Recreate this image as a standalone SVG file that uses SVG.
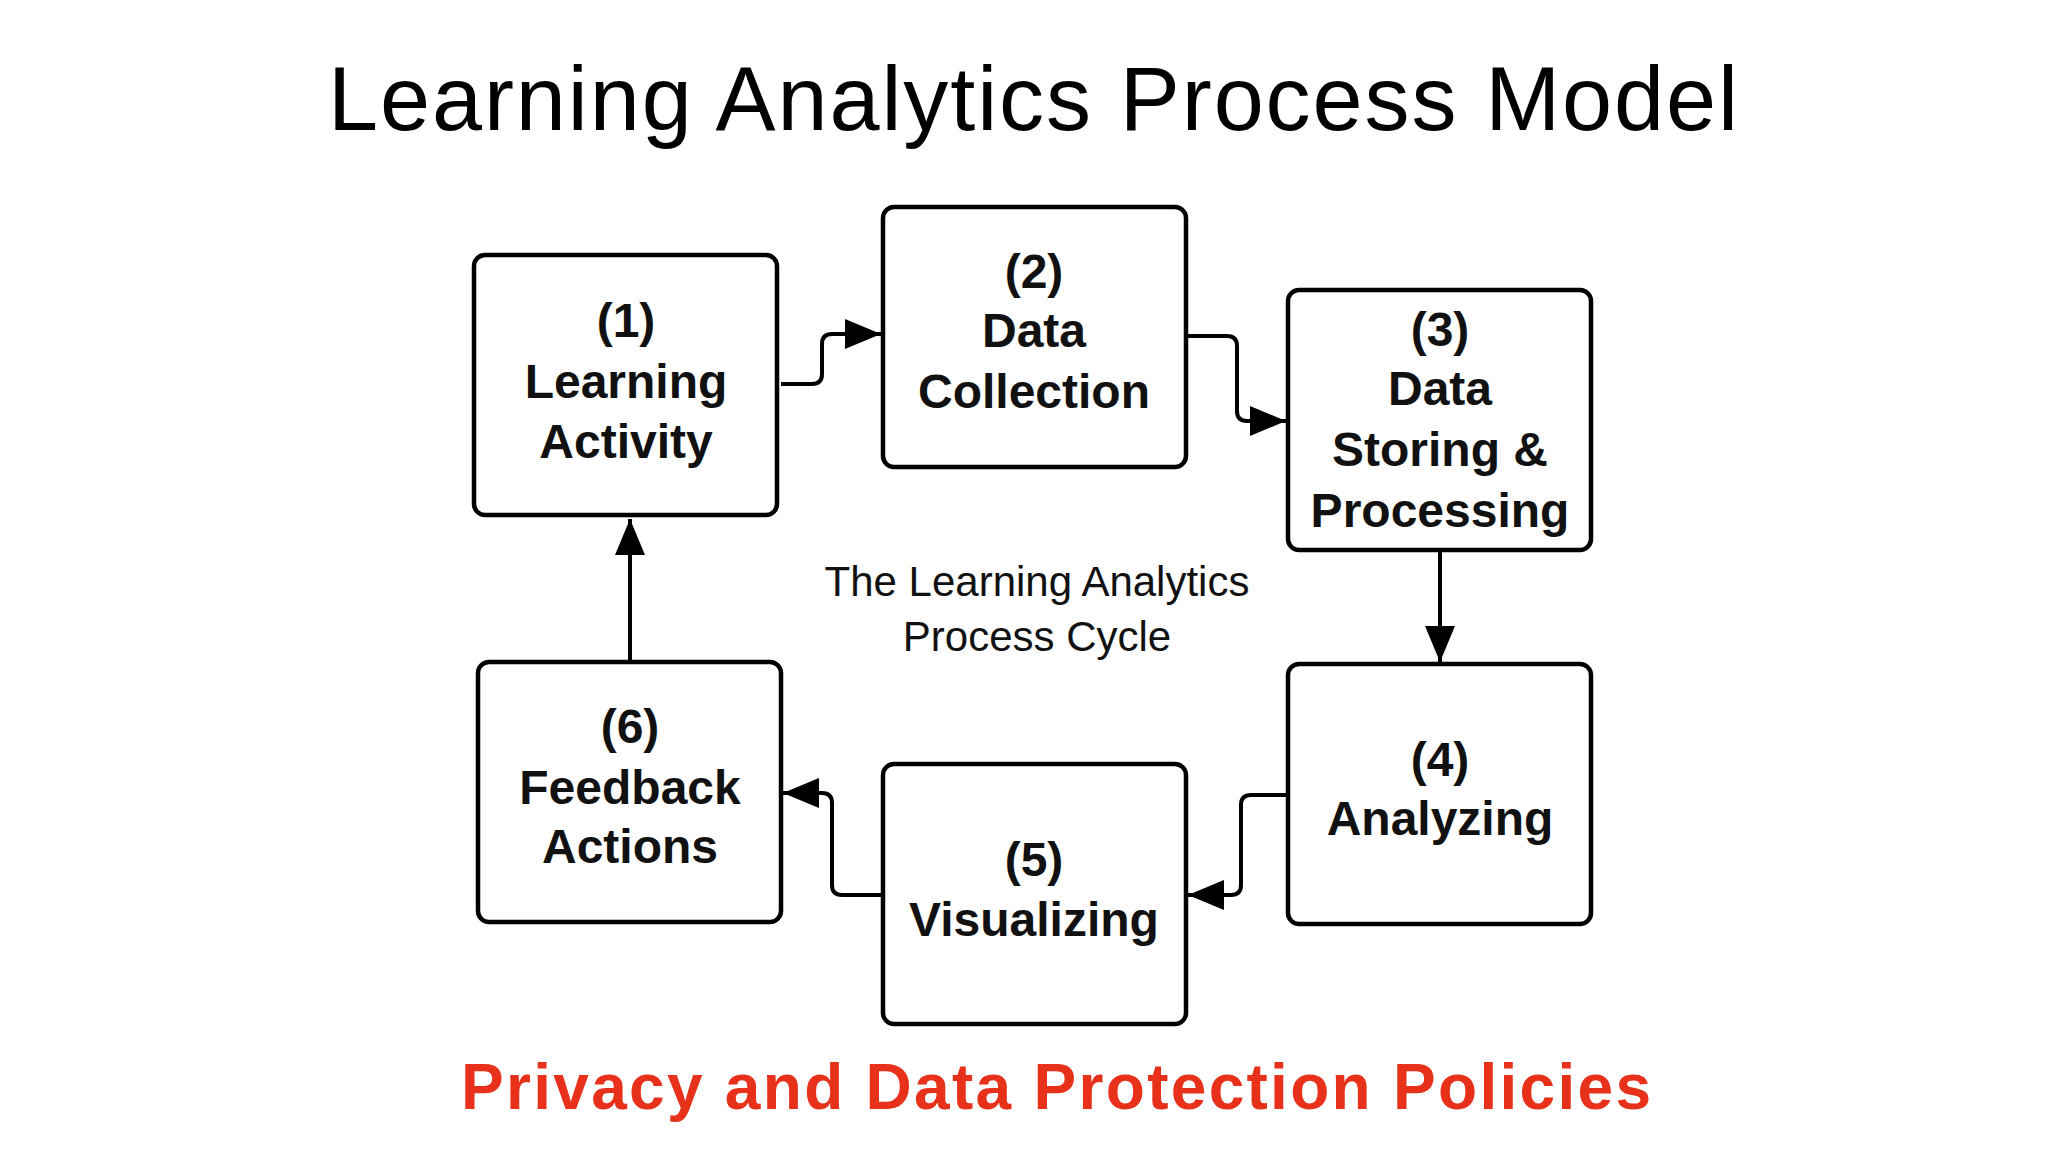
<svg xmlns="http://www.w3.org/2000/svg" width="2048" height="1152" viewBox="0 0 2048 1152">
<style>
.box{fill:#fff;stroke:#000;stroke-width:4.5}
.t{font-family:"Liberation Sans",Arial,sans-serif;font-weight:bold;font-size:48px;text-anchor:middle;fill:#111}
.c{fill:none;stroke:#000;stroke-width:4}
</style>
<defs>
<marker id="ah" viewBox="0 0 10 10" refX="10" refY="5" markerWidth="9" markerHeight="8" markerUnits="userSpaceOnUse" orient="auto" style="overflow:visible">
<path d="M0,0 L10,5 L0,10 z" fill="#000" transform="scale(1)"/>
</marker>
<marker id="a" viewBox="0 0 36 30" refX="36" refY="15" markerWidth="36" markerHeight="30" markerUnits="userSpaceOnUse" orient="auto">
<path d="M0,0 L36,15 L0,30 z" fill="#000"/>
</marker>
</defs>
<rect width="2048" height="1152" fill="#fff"/>
<text x="1033" y="130" font-family="Liberation Sans,Arial,sans-serif" font-size="90" text-anchor="middle" textLength="1410" fill="#000">Learning Analytics Process Model</text>
<g id="connectors">
<path class="c" d="M781,384 H812 Q822,384 822,374 V344 Q822,334 832,334 H881" marker-end="url(#a)"/>
<path class="c" d="M1186,336 H1227 Q1237,336 1237,346 V411 Q1237,421 1247,421 H1286" marker-end="url(#a)"/>
<path class="c" d="M1440,550 V662" marker-end="url(#a)"/>
<path class="c" d="M1288,795 H1251 Q1241,795 1241,805 V885 Q1241,895 1231,895 H1188" marker-end="url(#a)"/>
<path class="c" d="M883,895 H842 Q832,895 832,885 V803 Q832,793 822,793 H783" marker-end="url(#a)"/>
<path class="c" d="M630,662 V519" marker-end="url(#a)"/>
</g>
<g id="n1"><rect class="box" x="474" y="255" width="303" height="260" rx="11"/>
<text class="t" x="626" y="337">(1)</text><text class="t" x="626" y="398">Learning</text><text class="t" x="626" y="458">Activity</text></g>
<g id="n2"><rect class="box" x="883" y="207" width="303" height="260" rx="11"/>
<text class="t" x="1034" y="288">(2)</text><text class="t" x="1034" y="347">Data</text><text class="t" x="1034" y="408">Collection</text></g>
<g id="n3"><rect class="box" x="1288" y="290" width="303" height="260" rx="11"/>
<text class="t" x="1440" y="346">(3)</text><text class="t" x="1440" y="405">Data</text><text class="t" x="1440" y="466">Storing &amp;</text><text class="t" x="1440" y="527">Processing</text></g>
<g id="n4"><rect class="box" x="1288" y="664" width="303" height="260" rx="11"/>
<text class="t" x="1440" y="776">(4)</text><text class="t" x="1440" y="835">Analyzing</text></g>
<g id="n5"><rect class="box" x="883" y="764" width="303" height="260" rx="11"/>
<text class="t" x="1034" y="876">(5)</text><text class="t" x="1034" y="936">Visualizing</text></g>
<g id="n6"><rect class="box" x="478" y="662" width="303" height="260" rx="11"/>
<text class="t" x="630" y="743">(6)</text><text class="t" x="630" y="804">Feedback</text><text class="t" x="630" y="863">Actions</text></g>
<g id="center" font-family="Liberation Sans,Arial,sans-serif" font-size="42" text-anchor="middle" fill="#111">
<text x="1037" y="596">The Learning Analytics</text><text x="1037" y="651">Process Cycle</text></g>
<text x="1056" y="1109" font-family="Liberation Sans,Arial,sans-serif" font-weight="bold" font-size="64" text-anchor="middle" fill="#e8311a" textLength="1190">Privacy and Data Protection Policies</text>
</svg>
